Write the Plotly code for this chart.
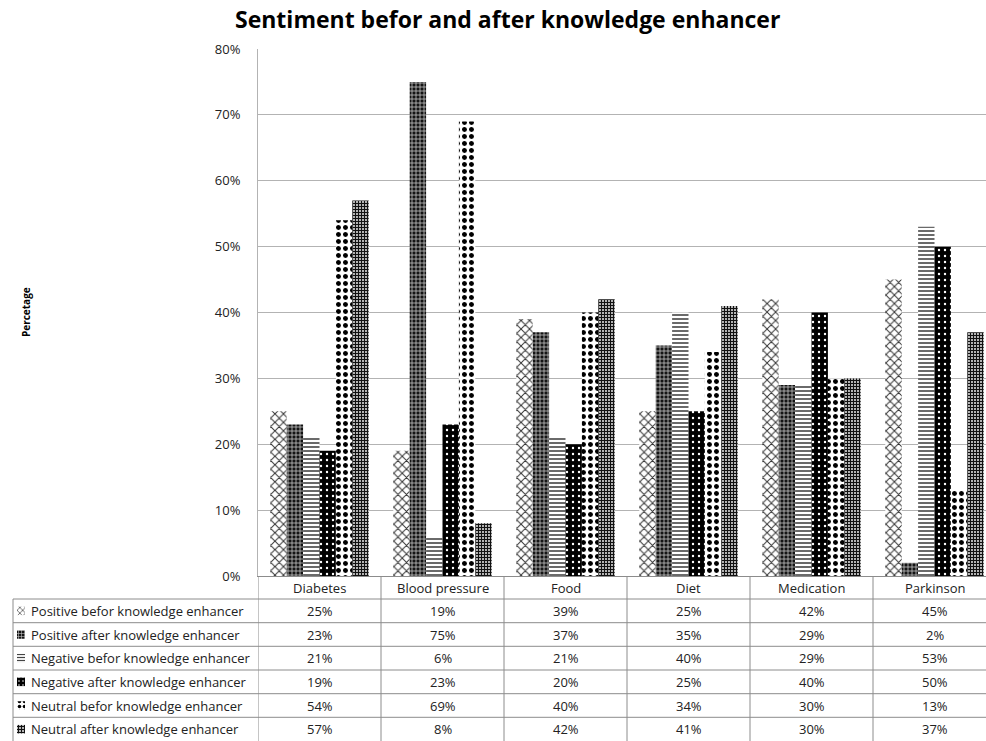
import plotly.graph_objects as go

W, H = 986, 741

categories = ["Diabetes", "Blood pressure", "Food", "Diet", "Medication", "Parkinson"]
series_names = [
    "Positive befor knowledge enhancer",
    "Positive after knowledge enhancer",
    "Negative befor knowledge enhancer",
    "Negative after knowledge enhancer",
    "Neutral befor knowledge enhancer",
    "Neutral after knowledge enhancer",
]
positive_before = [25, 19, 39, 25, 42, 45]
positive_after = [23, 75, 37, 35, 29, 2]
negative_before = [21, 6, 21, 40, 29, 53]
negative_after = [19, 23, 20, 25, 40, 50]
neutral_before = [54, 69, 40, 34, 30, 13]
neutral_after = [57, 8, 42, 41, 30, 37]
series_values = [positive_before, positive_after, negative_before,
                 negative_after, neutral_before, neutral_after]
y_ticks = [0, 10, 20, 30, 40, 50, 60, 70, 80]

# monochrome fill patterns, one per series
patterns = [
    dict(shape="x", fgcolor="#333333", bgcolor="white", size=6, solidity=0.3, fillmode="replace"),
    dict(shape="+", fgcolor="#c8c8c8", bgcolor="#141414", size=4, solidity=0.35, fillmode="replace"),
    dict(shape="-", fgcolor="#444444", bgcolor="white", size=4, solidity=0.4, fillmode="replace"),
    dict(shape=".", fgcolor="white", bgcolor="black", size=6, solidity=0.12, fillmode="replace"),
    dict(shape=".", fgcolor="black", bgcolor="white", size=7, solidity=0.4, fillmode="replace"),
    dict(shape="+", fgcolor="#111111", bgcolor="#c8c8c8", size=3, solidity=0.65, fillmode="replace"),
]

def px_x(p):
    return p / W

def px_y(p):
    return 1 - p / H

# plot area in pixels
PL, PT, PB = 258, 49, 576
x_range = [-0.5, 5.5 - 10 / 123]

FONT = "'Open Sans', sans-serif"

fig = go.Figure()
x_idx = list(range(len(categories)))
for name, vals, pat in zip(series_names, series_values, patterns):
    fig.add_trace(go.Bar(
        x=x_idx, y=[v / 100 for v in vals], name=name,
        marker=dict(color=pat["bgcolor"], pattern=pat, line=dict(width=0)),
        xaxis="x", yaxis="y", showlegend=False, hoverinfo="name+y",
    ))

# legend keys for the data table rows
for i, (name, pat) in enumerate(zip(series_names, patterns)):
    fig.add_trace(go.Bar(
        x=[1], y=[i], orientation="h", width=0.36,
        marker=dict(color=pat["bgcolor"], pattern=dict(pat, size=max(3, pat["size"] - 2)),
                    line=dict(width=0)),
        xaxis="x2", yaxis="y2", showlegend=False, hoverinfo="skip",
    ))

grid_c = "#b3b3b3"
line_c = "#8c8c8c"

fig.update_layout(
    width=W, height=H,
    margin=dict(l=0, r=0, t=0, b=0, autoexpand=False),
    paper_bgcolor="white", plot_bgcolor="white",
    barmode="group", bargap=0.2, bargroupgap=0,
    font=dict(family=FONT, size=13, color="#222"),
    xaxis=dict(domain=[px_x(PL), 1], range=x_range, showticklabels=False,
               showgrid=False, zeroline=False, showline=True, linecolor=line_c,
               linewidth=1, ticks="", automargin=False),
    yaxis=dict(domain=[px_y(PB), px_y(PT)], range=[0, 0.8],
               tickvals=[v / 100 for v in y_ticks],
               ticktext=[f"{v}%" for v in y_ticks],
               showgrid=True, gridcolor=grid_c, gridwidth=1, zeroline=False,
               showline=True, linecolor=grid_c, ticks="", ticklabelstandoff=14,
               tickfont=dict(size=13, color="#222"), automargin=False),
    xaxis2=dict(domain=[px_x(17), px_x(25)], range=[0, 1], visible=False,
                anchor="y2", fixedrange=True, automargin=False),
    yaxis2=dict(domain=[0, px_y(599)], range=[5.5, -0.5], visible=False,
                anchor="x2", fixedrange=True, automargin=False),
)

# title and axis title
fig.add_annotation(text="<b>Sentiment befor and after knowledge enhancer</b>",
                   x=px_x(507), y=px_y(19), xref="paper", yref="paper",
                   showarrow=False, font=dict(size=23, color="black", family=FONT),
                   xanchor="center", yanchor="middle")
fig.add_annotation(text="<b>Percetage</b>", x=px_x(17), y=px_y(312),
                   xref="paper", yref="paper", showarrow=False, textangle=-90,
                   font=dict(size=10, color="black", family=FONT))

# data table grid
row_edges = [599, 622.7, 646.3, 670, 693.7, 717.3, 741]
shapes = []
for ye in row_edges[:-1]:
    shapes.append(dict(type="line", xref="paper", yref="paper",
                       x0=px_x(13), x1=1, y0=px_y(ye), y1=px_y(ye),
                       line=dict(color=line_c, width=1)))
shapes.append(dict(type="line", xref="paper", yref="paper",
                   x0=px_x(13), x1=px_x(13), y0=px_y(599), y1=0,
                   line=dict(color=line_c, width=1)))
for i in range(len(categories) + 1):
    shapes.append(dict(type="line", xref="x", yref="paper",
                       x0=i - 0.5, x1=i - 0.5, y0=px_y(PB), y1=0,
                       line=dict(color=line_c, width=1)))
fig.update_layout(shapes=shapes)

for i, cat in enumerate(categories):
    fig.add_annotation(text=cat, x=i, y=px_y(588), xref="x", yref="paper",
                       yanchor="middle", showarrow=False,
                       font=dict(size=13, color="#222"))
for r, (name, vals) in enumerate(zip(series_names, series_values)):
    yc = px_y((row_edges[r] + row_edges[r + 1]) / 2)
    fig.add_annotation(text=name, x=px_x(29), y=yc, xref="paper", yref="paper",
                       xanchor="left", yanchor="middle", showarrow=False,
                       font=dict(size=13, color="#222"))
    for i, v in enumerate(vals):
        fig.add_annotation(text=f"{v}%", x=i, y=yc, xref="x", yref="paper",
                           yanchor="middle", showarrow=False,
                           font=dict(size=13, color="#222"))

fig.write_html("out.html")
